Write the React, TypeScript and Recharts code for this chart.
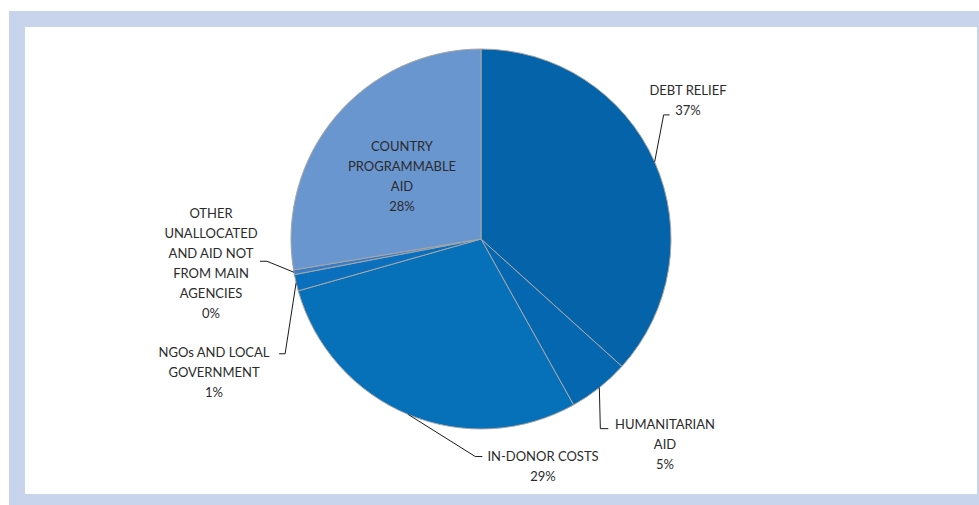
import React from "react";
import { PieChart, Pie, Cell } from "recharts";

const categories = [
  "DEBT RELIEF",
  "HUMANITARIAN AID",
  "IN-DONOR COSTS",
  "NGOs AND LOCAL GOVERNMENT",
  "OTHER UNALLOCATED AND AID NOT FROM MAIN AGENCIES",
  "COUNTRY PROGRAMMABLE AID",
];
const shares = [36.7, 5.2, 28.7, 1.4, 0.4, 27.6];
const labelLines = [
  ["DEBT RELIEF"],
  ["HUMANITARIAN", "AID"],
  ["IN-DONOR COSTS"],
  ["NGOs AND LOCAL", "GOVERNMENT"],
  ["OTHER", "UNALLOCATED", "AND AID NOT", "FROM MAIN", "AGENCIES"],
  ["COUNTRY", "PROGRAMMABLE", "AID"],
];

const colors = ["#0563a9", "#0567b0", "#0670b9", "#0a6fbd", "#3b7dc4", "#6a96cf"];

const data = categories.map((name, i) => ({ name, value: shares[i] }));

// label layout: elbow offset from slice edge, end of leader, text centre & first line y
const layout = [
  { elbow: [9, -47], endDx: 6, tx: 688, ty: 90 },
  { elbow: [1, 41], endDx: 8, tx: 665, ty: 424 },
  { elbow: [67, 42], endDx: 7, tx: 543, ty: 456 },
  { elbow: [-11, 71], endDx: -6, tx: 214, ty: 352 },
  { elbow: [-27, -11], endDx: -7, tx: 211, ty: 213 },
  { elbow: null, endDx: 0, tx: 402, ty: 146 },
];

const RAD = Math.PI / 180;
const total = shares.reduce((a, b) => a + b, 0);

const renderLabel = (props: any) => {
  const { cx, cy, midAngle, outerRadius, index, value } = props;
  const L = layout[index];
  const ex = cx + outerRadius * Math.cos(-midAngle * RAD);
  const ey = cy + outerRadius * Math.sin(-midAngle * RAD);
  const lines = [...labelLines[index], `${Math.round((value / total) * 100)}%`];
  let path = null;
  if (L.elbow) {
    const bx = ex + L.elbow[0];
    const by = ey + L.elbow[1];
    path = (
      <polyline
        points={`${ex},${ey} ${bx},${by} ${bx + L.endDx},${by}`}
        fill="none"
        stroke="#1a1a1a"
        strokeWidth={1}
      />
    );
  }
  return (
    <g key={`lbl-${index}`}>
      {path}
      <text
        x={L.tx}
        y={L.ty}
        textAnchor="middle"
        dominantBaseline="central"
        fill="#2b2b2b"
        fontSize={13}
        fontFamily="Lato, 'Open Sans', sans-serif"
      >
        {lines.map((t, k) => (
          <tspan key={k} x={L.tx} y={L.ty + k * 20} dominantBaseline="central">
            {t}
          </tspan>
        ))}
      </text>
    </g>
  );
};

export default function App() {
  return (
    <div style={{ position: "absolute", left: 0, top: 0, width: 979, height: 505, background: "#ffffff" }}>
      <div style={{ position: "absolute", left: 9, top: 11, width: 970, height: 494, background: "#c8d4eb" }} />
      <div style={{ position: "absolute", left: 25, top: 27, width: 952, height: 467, background: "#ffffff" }} />
      <div style={{ position: "absolute", left: 0, top: 0 }}>
        <PieChart width={979} height={505} margin={{ top: 0, right: 0, bottom: 0, left: 0 }}>
          <Pie
            data={data}
            dataKey="value"
            nameKey="name"
            cx={481}
            cy={239}
            outerRadius={190}
            startAngle={90}
            endAngle={-270}
            stroke="#a6a6a6"
            strokeWidth={1}
            label={renderLabel}
            labelLine={false}
            isAnimationActive={false}
          >
            {data.map((d, i) => (
              <Cell key={d.name} fill={colors[i]} />
            ))}
          </Pie>
        </PieChart>
      </div>
    </div>
  );
}
